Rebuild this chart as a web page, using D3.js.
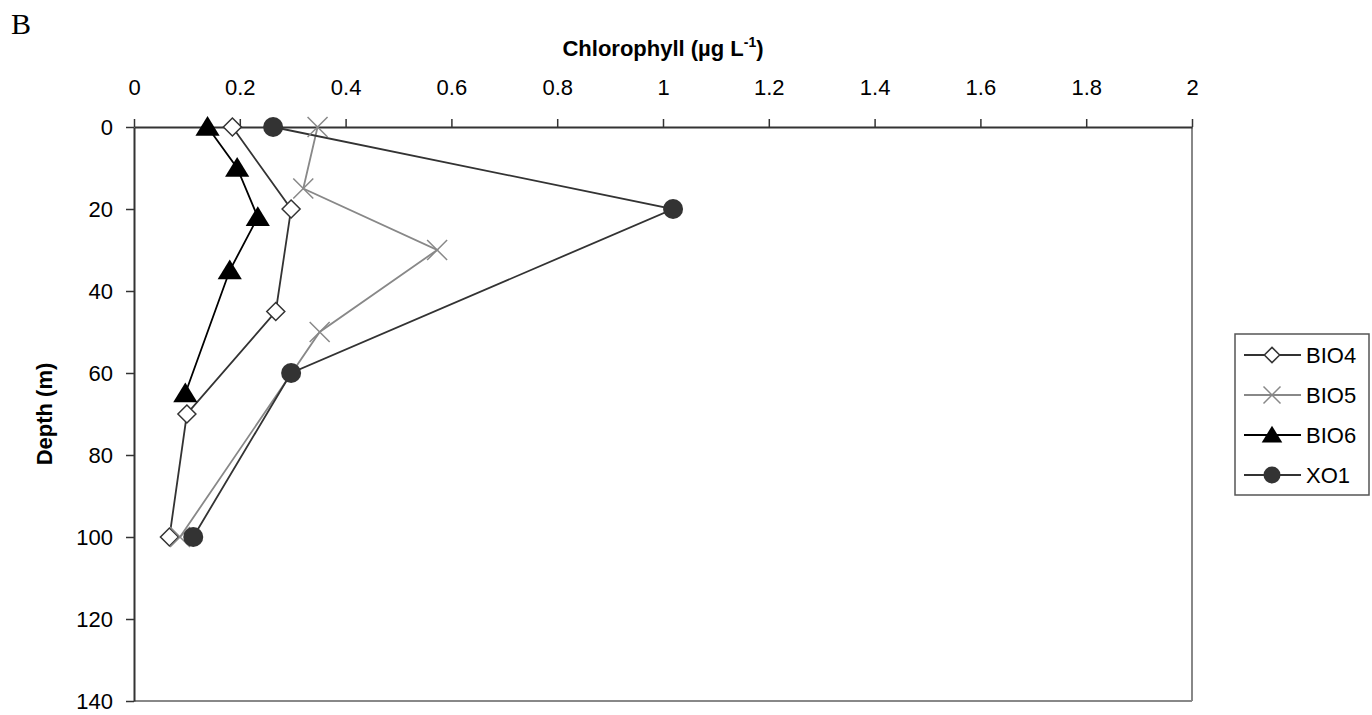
<html><head>
    <title>Chlorophyll profile</title>
    <script src="https://d3js.org/d3.v7.min.js"></script>
    <style>
        body { margin: 0; background: #fff; }
        text { font-family: "Liberation Sans", Arial, sans-serif; }
    </style>
</head>
<body>
<div id="chart"></div>

<script>
    const svgWidth = 1372;
    const svgHeight = 715;

    // data
    const seriesNames = ["BIO4", "BIO5", "BIO6", "XO1"];
    const bio4Depth = [0, 20, 45, 70, 100];
    const bio4Chl = [0.186, 0.297, 0.268, 0.10, 0.067];
    const bio5Depth = [0, 15, 30, 50, 100];
    const bio5Chl = [0.347, 0.32, 0.573, 0.351, 0.087];
    const bio6Depth = [0, 10, 22, 35, 65];
    const bio6Chl = [0.139, 0.195, 0.234, 0.181, 0.097];
    const xo1Depth = [0, 20, 60, 100];
    const xo1Chl = [0.263, 1.019, 0.297, 0.112];
    const xTicks = [0, 0.2, 0.4, 0.6, 0.8, 1, 1.2, 1.4, 1.6, 1.8, 2];
    const yTicks = [0, 20, 40, 60, 80, 100, 120, 140];

    const plotLeft = 134, plotRight = 1192, plotTop = 127, plotBottom = 701;

    const xScale = d3.scaleLinear().domain([0, 2]).range([plotLeft, plotRight]);
    const yScale = d3.scaleLinear().domain([0, 140]).range([plotTop, plotBottom]);

    const svg = d3.select("#chart").append("svg")
        .attr("width", svgWidth)
        .attr("height", svgHeight);

    // plot border (right + bottom are grey in the original)
    svg.append("line").attr("x1", plotRight).attr("x2", plotRight).attr("y1", plotTop).attr("y2", plotBottom)
        .attr("stroke", "#888").attr("stroke-width", 2);
    svg.append("line").attr("x1", plotLeft).attr("x2", plotRight).attr("y1", plotBottom).attr("y2", plotBottom)
        .attr("stroke", "#888").attr("stroke-width", 2);

    // axes
    const topAxis = d3.axisTop(xScale).tickValues(xTicks).tickSize(8).tickSizeOuter(0)
        .tickFormat(d3.format("~g"));
    const gx = svg.append("g").attr("transform", "translate(0," + plotTop + ")").call(topAxis);

    const leftAxis = d3.axisLeft(yScale).tickValues(yTicks).tickSize(8).tickSizeOuter(0);
    const gy = svg.append("g").attr("transform", "translate(" + plotLeft + ",0)").call(leftAxis);

    [gx, gy].forEach(g => {
        g.select(".domain").attr("stroke", "#333").attr("stroke-width", 2);
        g.selectAll(".tick line").attr("stroke", "#333").attr("stroke-width", 1.5);
        g.selectAll(".tick text").attr("fill", "#000").style("font-size", "22px")
            .style("font-family", "'Liberation Sans', Arial, sans-serif");
    });
    gx.selectAll(".tick text").attr("y", -40).attr("dy", "0.35em");
    gy.selectAll(".tick text").attr("x", -21);

    // titles
    const xTitle = svg.append("text")
        .attr("x", (plotLeft + plotRight) / 2).attr("y", 56)
        .attr("text-anchor", "middle")
        .style("font-size", "22px").style("font-weight", "bold");
    xTitle.append("tspan").text("Chlorophyll (µg L");
    xTitle.append("tspan").attr("dy", -9).style("font-size", "14px").text("-1");
    xTitle.append("tspan").attr("dy", 9).text(")");

    svg.append("text")
        .attr("transform", "translate(52," + ((plotTop + plotBottom) / 2) + ") rotate(-90)")
        .attr("text-anchor", "middle")
        .style("font-size", "22px").style("font-weight", "bold")
        .text("Depth (m)");

    svg.append("text")
        .attr("x", 11).attr("y", 34)
        .style("font-family", "'Liberation Serif', 'Times New Roman', serif")
        .style("font-size", "30px")
        .text("B");

    // series
    const series = [
        {name: "BIO4", depth: bio4Depth, chl: bio4Chl, line: "#333", shape: "diamond"},
        {name: "BIO5", depth: bio5Depth, chl: bio5Chl, line: "#888", shape: "cross"},
        {name: "BIO6", depth: bio6Depth, chl: bio6Chl, line: "#000", shape: "triangle"},
        {name: "XO1", depth: xo1Depth, chl: xo1Chl, line: "#333", shape: "circle"}
    ];

    function drawMarker(g, shape, s) {
        if (shape === "diamond") {
            g.append("path").attr("d", `M0,${-s}L${s},0L0,${s}L${-s},0Z`)
                .attr("fill", "#fff").attr("stroke", "#333").attr("stroke-width", 1.5);
        } else if (shape === "cross") {
            g.append("path").attr("d", `M${-s},${-s}L${s},${s}M${-s},${s}L${s},${-s}`)
                .attr("stroke", "#888").attr("stroke-width", 1.5).attr("fill", "none");
        } else if (shape === "triangle") {
            g.append("path").attr("d", `M0,${-s}L${s * 1.1},${s * 0.8}L${-s * 1.1},${s * 0.8}Z`)
                .attr("fill", "#000");
        } else {
            g.append("circle").attr("r", s).attr("fill", "#333");
        }
    }

    const markerSize = {diamond: 9, cross: 10, triangle: 11, circle: 10};

    series.forEach(s => {
        const pts = s.depth.map((d, i) => [s.chl[i], d]);
        svg.append("path")
            .datum(pts)
            .attr("fill", "none")
            .attr("stroke", s.line)
            .attr("stroke-width", 1.8)
            .attr("d", d3.line().x(p => xScale(p[0])).y(p => yScale(p[1])));
    });
    series.forEach(s => {
        s.depth.forEach((d, i) => {
            const g = svg.append("g")
                .attr("transform", "translate(" + xScale(s.chl[i]) + "," + yScale(d) + ")");
            drawMarker(g, s.shape, markerSize[s.shape]);
        });
    });

    // legend
    const legend = svg.append("g");
    legend.append("rect").attr("x", 1235).attr("y", 334).attr("width", 134).attr("height", 161)
        .attr("fill", "#fff").attr("stroke", "#555").attr("stroke-width", 1.5);
    series.forEach((s, i) => {
        const y = 355 + i * 40;
        legend.append("line").attr("x1", 1244).attr("x2", 1301).attr("y1", y).attr("y2", y)
            .attr("stroke", s.line).attr("stroke-width", 1.8);
        const g = legend.append("g").attr("transform", "translate(1272," + y + ")");
        drawMarker(g, s.shape, markerSize[s.shape] * 0.85);
        legend.append("text").attr("x", 1306).attr("y", y).attr("dy", "0.36em")
            .style("font-size", "22px").text(s.name);
    });
</script>
</body></html>
